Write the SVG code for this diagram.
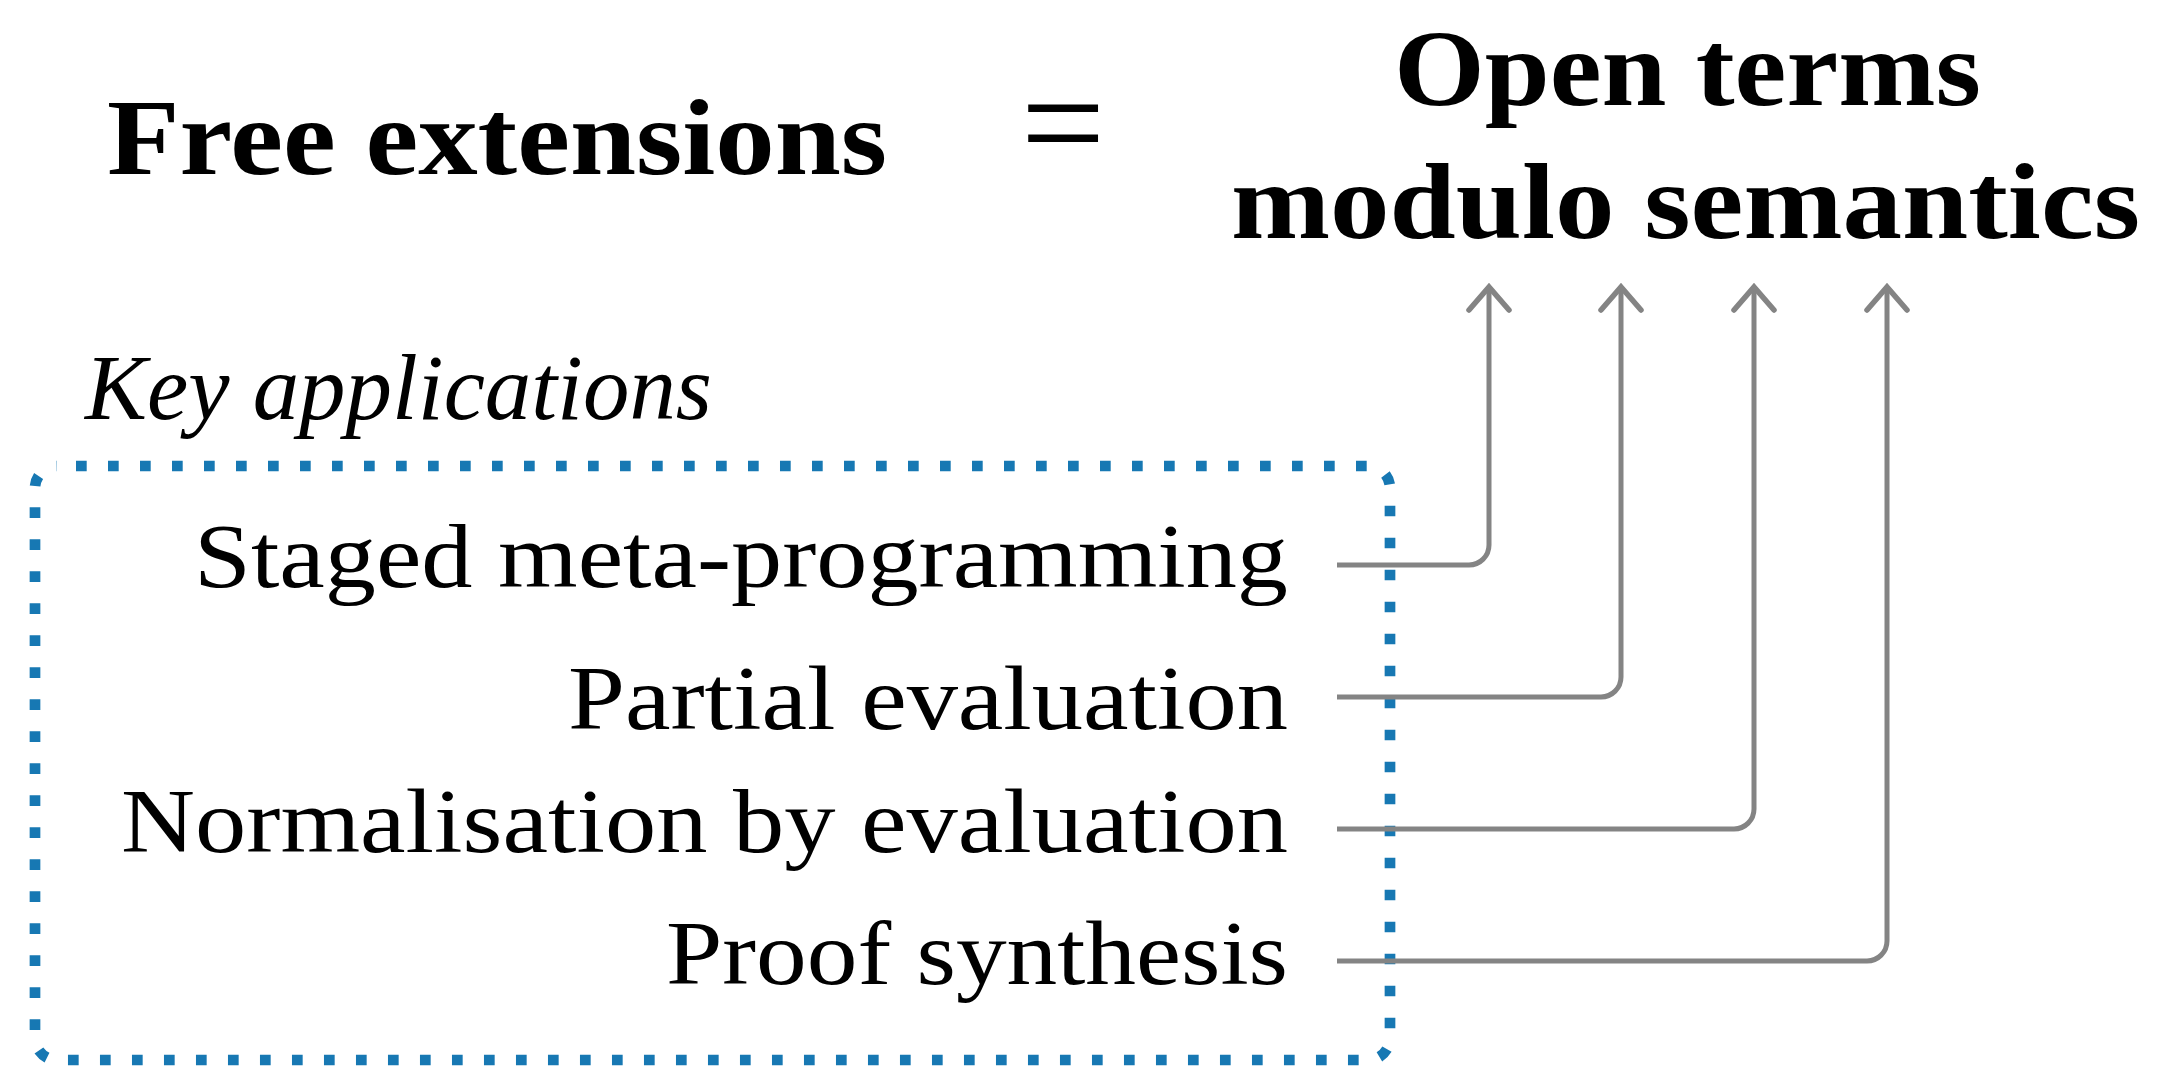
<svg xmlns="http://www.w3.org/2000/svg" width="2157" height="1070" viewBox="0 0 2157 1070">
<style>
.head{font-family:"Liberation Serif",serif;font-weight:bold;font-size:108px;fill:#000}
.item{font-family:"Liberation Serif",serif;font-size:90px;fill:#000}
.ital{font-family:"Liberation Serif",serif;font-style:italic;font-size:94px;fill:#000}
.conn{fill:none;stroke:#848484;stroke-width:5;marker-end:url(#arr)}
.box{fill:none;stroke:#1778b3;stroke-width:10.7;stroke-dasharray:10.7 21.3;stroke-dashoffset:13}
</style>
<defs>
<marker id="arr" markerUnits="userSpaceOnUse" markerWidth="60" markerHeight="60" refX="0" refY="0" orient="auto" overflow="visible">
<path d="M-23,-20 L0,0 L-23,20" fill="none" stroke="#848484" stroke-width="5.5" stroke-linecap="round" stroke-linejoin="miter"/>
</marker>
</defs>
<rect width="2157" height="1070" fill="#fff"/>
<g id="title-left"><text class="head" x="107" y="174" textLength="780" lengthAdjust="spacingAndGlyphs">Free extensions</text></g>
<g id="equals"><text class="head" style="font-weight:normal;font-size:150px" x="1063" y="173" text-anchor="middle">=</text></g>
<g id="title-right">
<text class="head" x="1394" y="105" textLength="587" lengthAdjust="spacingAndGlyphs">Open terms</text>
<text class="head" x="1231" y="238" textLength="909" lengthAdjust="spacingAndGlyphs">modulo semantics</text>
</g>
<g id="key-applications">
<text class="ital" x="85" y="419" textLength="627" lengthAdjust="spacingAndGlyphs">Key applications</text>
<rect class="box" x="35" y="466" width="1355" height="594" rx="22"/>
</g>
<g id="app-staged"><text class="item" x="194" y="587" textLength="1094" lengthAdjust="spacingAndGlyphs">Staged meta-programming</text></g>
<g id="app-partial"><text class="item" x="568" y="729" textLength="720" lengthAdjust="spacingAndGlyphs">Partial evaluation</text></g>
<g id="app-nbe"><text class="item" x="121" y="852" textLength="1167" lengthAdjust="spacingAndGlyphs">Normalisation by evaluation</text></g>
<g id="app-proof"><text class="item" x="666" y="984" textLength="622" lengthAdjust="spacingAndGlyphs">Proof synthesis</text></g>
<g id="connectors">
<path class="conn" d="M1337,565 H1469 A20,20 0 0 0 1489,545 V287"/>
<path class="conn" d="M1337,697 H1601 A20,20 0 0 0 1621,677 V287"/>
<path class="conn" d="M1337,829 H1734 A20,20 0 0 0 1754,809 V287"/>
<path class="conn" d="M1337,961 H1867 A20,20 0 0 0 1887,941 V287"/>
</g>
</svg>
